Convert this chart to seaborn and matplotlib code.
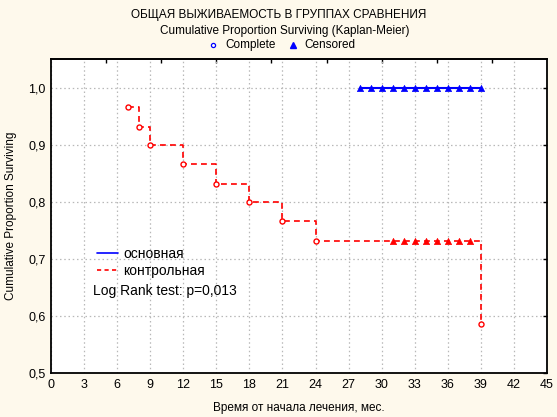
import matplotlib
matplotlib.use("Agg")
import matplotlib.pyplot as plt
import seaborn as sns
import pandas as pd
from matplotlib.lines import Line2D

# ---- data ----
ctrl_event_times = [7, 8, 9, 12, 15, 18, 21, 24, 39]
ctrl_event_surv = [0.967, 0.933, 0.900, 0.867, 0.833, 0.800, 0.767, 0.733, 0.587]
ctrl_cens_times = [31, 32, 33, 34, 35, 36, 37, 38]
ctrl_cens_surv = [0.733] * 8
main_cens_times = [28, 29, 30, 31, 32, 33, 34, 35, 36, 37, 38, 39]
main_cens_surv = [1.0] * 12

x_ticks = [0, 3, 6, 9, 12, 15, 18, 21, 24, 27, 30, 33, 36, 39, 42, 45]
y_ticks = [0.5, 0.6, 0.7, 0.8, 0.9, 1.0]
y_tick_labels = ["0,5", "0,6", "0,7", "0,8", "0,9", "1,0"]
top_ticks = [5, 10, 15, 20, 25, 30, 35, 40]

title1 = "ОБЩАЯ ВЫЖИВАЕМОСТЬ В ГРУППАХ СРАВНЕНИЯ"
title2 = "Cumulative Proportion Surviving (Kaplan-Meier)"
x_label = "Время от начала лечения, мес."
y_label = "Cumulative Proportion Surviving"
group_names = ["основная", "контрольная"]
log_rank = "Log Rank test: p=0,013"

# ---- style ----
sns.set_style("white")
plt.rcParams["font.family"] = ["Liberation Sans", "DejaVu Sans"]
plt.rcParams["text.color"] = "black"
plt.rcParams["axes.labelcolor"] = "black"
plt.rcParams["xtick.color"] = "black"
plt.rcParams["ytick.color"] = "black"

BG = "#fef9ec"
BLUE = "#0000ff"
RED = "#ff0000"
FS = 8.5
LFS = 10

fig = plt.figure(figsize=(5.57, 4.17), dpi=100, facecolor=BG)
ax = fig.add_axes([51 / 557, 1 - 373.3 / 417, (547 - 51) / 557, (373.3 - 59.3) / 417])
ax.set_facecolor("white")

# control group step curve
ctrl_line = pd.DataFrame({"t": ctrl_event_times, "s": ctrl_event_surv})
sns.lineplot(data=ctrl_line, x="t", y="s", ax=ax, color=RED, lw=1.2,
             linestyle=(0, (3.5, 2.5)), drawstyle="steps-post",
             estimator=None, sort=False, zorder=3)
sns.scatterplot(x=ctrl_event_times, y=ctrl_event_surv, ax=ax, marker="o",
                s=13, facecolor="white", edgecolor=RED, linewidth=1.0, zorder=4)
sns.scatterplot(x=ctrl_cens_times, y=ctrl_cens_surv, ax=ax, marker="^",
                s=20, color=RED, edgecolor=RED, linewidth=0.5, zorder=4)

# main group
main_line = pd.DataFrame({"t": main_cens_times, "s": main_cens_surv})
sns.lineplot(data=main_line, x="t", y="s", ax=ax, color=BLUE, lw=1.5,
             drawstyle="steps-post", estimator=None, sort=False, zorder=3)
sns.scatterplot(x=main_cens_times, y=main_cens_surv, ax=ax, marker="^",
                s=20, color=BLUE, edgecolor=BLUE, linewidth=0.5, zorder=4)

ax.set_xlim(0, 45)
ax.set_ylim(0.5, 1.051)
ax.set_xticks(x_ticks)
ax.set_xticklabels([str(v) for v in x_ticks], fontsize=FS + 0.5)
ax.set_yticks(y_ticks)
ax.set_yticklabels(y_tick_labels, fontsize=FS + 0.5)
ax.tick_params(axis="both", direction="in", length=3, width=1, colors="black",
               pad=4, right=True)
ax.set_xlabel(x_label, fontsize=FS, labelpad=8)
ax.set_ylabel(y_label, fontsize=FS, labelpad=8)

sec = ax.secondary_xaxis("top")
sec.set_xticks(top_ticks)
sec.tick_params(direction="in", length=3, width=1, labeltop=False)

ax.grid(True, color="#b8b8b8", linestyle=(0, (1.2, 2.2)), linewidth=0.9)
for sp in ax.spines.values():
    sp.set_color("black")
    sp.set_linewidth(1.3)
sec.spines["top"].set_linewidth(1.3)

# in-plot legend
handles = [Line2D([], [], color=BLUE, lw=1.2),
           Line2D([], [], color=RED, lw=1.2, linestyle=(0, (2.5, 2)))]
leg = ax.legend(handles, group_names, loc="upper left",
                bbox_to_anchor=(87 / 557, 1 - 237 / 417),
                bbox_transform=fig.transFigure, frameon=False, fontsize=LFS,
                handlelength=1.5, handletextpad=0.4, labelspacing=0.22,
                borderpad=0.2)
fig.text(93 / 557, 1 - 291 / 417, log_rank, fontsize=LFS, va="center", ha="left")

# titles / marker key
fig.text(279 / 557, 1 - 15 / 417, title1, fontsize=FS, ha="center", va="center")
fig.text(285 / 557, 1 - 31 / 417, title2, fontsize=FS, ha="center", va="center")
fig.lines.append(Line2D([213 / 557], [1 - 45 / 417], transform=fig.transFigure,
                        marker="o", ms=3, mfc="white", mec=BLUE, mew=0.9, ls=""))
fig.text(225 / 557, 1 - 45 / 417, "Complete", fontsize=FS, ha="left", va="center")
fig.lines.append(Line2D([293 / 557], [1 - 45 / 417], transform=fig.transFigure,
                        marker="^", ms=4, color=BLUE, ls=""))
fig.text(304 / 557, 1 - 45 / 417, "Censored", fontsize=FS, ha="left", va="center")

fig.savefig("out.png", dpi=100, facecolor=BG)
